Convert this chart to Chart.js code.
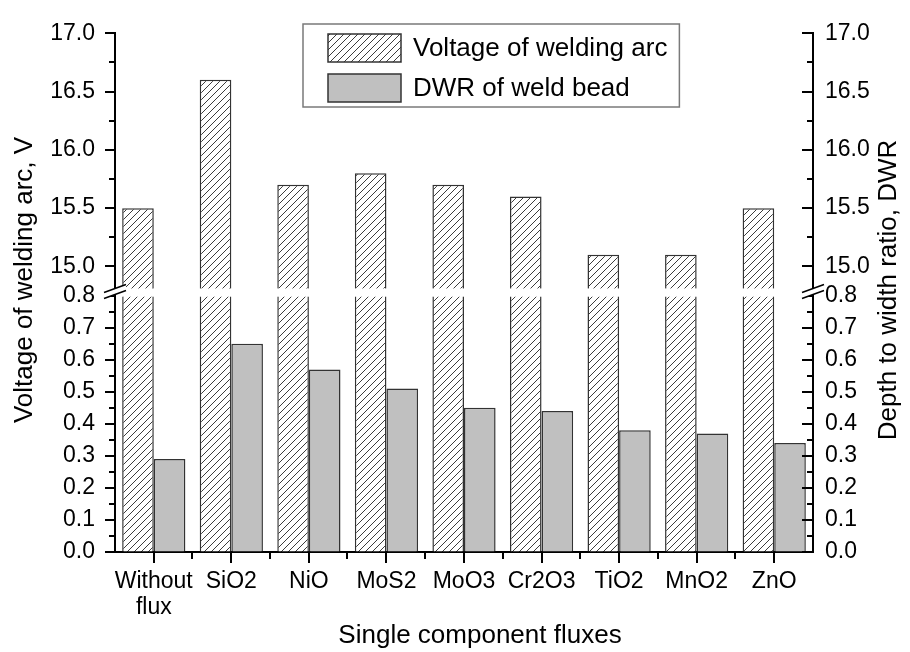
<!DOCTYPE html>
<html>
<head>
<meta charset="utf-8">
<script src="https://cdn.jsdelivr.net/npm/chart.js@4/dist/chart.umd.min.js"></script>
<style>
  html, body { margin: 0; padding: 0; background: #fff; }
  #wrap { width: 910px; height: 652px; }
</style>
</head>
<body>
<div id="wrap"><canvas id="chart" width="910" height="652"></canvas></div>
<script>
const categories = [['Without', 'flux'], 'SiO2', 'NiO', 'MoS2', 'MoO3', 'Cr2O3', 'TiO2', 'MnO2', 'ZnO'];
const seriesNames = ['Voltage of welding arc', 'DWR of weld bead'];
const voltage = [15.5, 16.6, 15.7, 15.8, 15.7, 15.6, 15.1, 15.1, 15.5];
const dwr = [0.29, 0.65, 0.57, 0.51, 0.45, 0.44, 0.38, 0.37, 0.34];
const majorTicks = [0, 0.1, 0.2, 0.3, 0.4, 0.5, 0.6, 0.7, 0.8, 15.0, 15.5, 16.0, 16.5, 17.0];
const minorTicks = [0.05, 0.15, 0.25, 0.35, 0.45, 0.55, 0.65, 0.75, 15.25, 15.75, 16.25, 16.75];
const axisTitles = ['Voltage of welding arc, V', 'Depth to width ratio, DWR', 'Single component fluxes'];

// broken value axis: 0..0.8 in the lower half, 14.82..17 in the upper half
const lowEnd = 0.8, highStart = 14.82, axisMax = 17;
const lowFrac = 0.494, highFrac = 0.49;

const FONT = '"Liberation Sans", Arial, Helvetica, sans-serif';

class BrokenScale extends Chart.LinearScale {
  buildTicks() {
    this.start = this.min;
    this.end = this.max;
    return majorTicks.map(v => ({ value: v }));
  }
  getPixelForValue(v) {
    const h = this.bottom - this.top;
    const yLow = this.bottom - h * lowFrac;
    const yHigh = this.top + h * highFrac;
    if (v <= lowEnd) return this.bottom - (v / lowEnd) * (this.bottom - yLow);
    if (v >= highStart) return yHigh - (v - highStart) / (axisMax - highStart) * (yHigh - this.top);
    return yLow - (v - lowEnd) / (highStart - lowEnd) * (yLow - yHigh);
  }
  getValueForPixel(p) {
    const h = this.bottom - this.top;
    const yLow = this.bottom - h * lowFrac;
    const yHigh = this.top + h * highFrac;
    if (p >= yLow) return (this.bottom - p) / (this.bottom - yLow) * lowEnd;
    if (p <= yHigh) return highStart + (yHigh - p) / (yHigh - this.top) * (axisMax - highStart);
    return lowEnd + (yLow - p) / (yLow - yHigh) * (highStart - lowEnd);
  }
}
BrokenScale.id = 'broken';
BrokenScale.defaults = Object.assign({}, Chart.LinearScale.defaults);
Chart.register(BrokenScale);

function hatch() {
  const s = 7;
  const c = document.createElement('canvas');
  c.width = s; c.height = s;
  const g = c.getContext('2d');
  g.fillStyle = '#fff';
  g.fillRect(0, 0, s, s);
  g.strokeStyle = '#3c3c3c';
  g.lineWidth = 1;
  g.beginPath();
  g.moveTo(0, s); g.lineTo(s, 0);
  g.moveTo(-1, 1); g.lineTo(1, -1);
  g.moveTo(s - 1, s + 1); g.lineTo(s + 1, s - 1);
  g.stroke();
  return g.createPattern(c, 'repeat');
}

const extras = {
  id: 'extras',
  afterDatasetsDraw(chart) {
    const { ctx, chartArea: a, scales: { y } } = chart;
    const y1 = y.getPixelForValue(highStart), y2 = y.getPixelForValue(lowEnd);
    ctx.save();
    ctx.fillStyle = '#fff';
    ctx.fillRect(a.left + 1, y1 + 1, a.right - a.left - 2, y2 - y1);
    ctx.restore();
  },
  afterDraw(chart) {
    const { ctx, chartArea: a, scales: { x, y } } = chart;
    ctx.save();
    ctx.strokeStyle = '#000';
    ctx.lineWidth = 2;
    ctx.beginPath();
    // y tick marks: outward on the left, inward on the right
    majorTicks.forEach(v => {
      const p = Math.round(y.getPixelForValue(v));
      ctx.moveTo(a.left - 10, p); ctx.lineTo(a.left, p);
      ctx.moveTo(a.right - 11, p); ctx.lineTo(a.right, p);
    });
    minorTicks.forEach(v => {
      const p = Math.round(y.getPixelForValue(v));
      ctx.moveTo(a.left - 6, p); ctx.lineTo(a.left, p);
      ctx.moveTo(a.right - 6, p); ctx.lineTo(a.right, p);
    });
    // x tick marks
    categories.forEach((c, i) => {
      const p = Math.round(x.getPixelForTick(i));
      ctx.moveTo(p, a.bottom); ctx.lineTo(p, a.bottom + 11);
      if (i > 0) {
        const m = Math.round((x.getPixelForTick(i - 1) + p) / 2);
        ctx.moveTo(m, a.bottom); ctx.lineTo(m, a.bottom + 7);
      }
    });
    ctx.stroke();

    // axis break marks
    const yb = (y.getPixelForValue(highStart) + y.getPixelForValue(lowEnd)) / 2;
    [a.left, a.right].forEach(ax => {
      ctx.fillStyle = '#fff';
      ctx.beginPath();
      ctx.moveTo(ax - 11, yb + 1); ctx.lineTo(ax + 11, yb - 7);
      ctx.lineTo(ax + 11, yb - 1); ctx.lineTo(ax - 11, yb + 7);
      ctx.closePath();
      ctx.fill();
      ctx.lineWidth = 1.5;
      ctx.beginPath();
      ctx.moveTo(ax - 11, yb + 1); ctx.lineTo(ax + 11, yb - 7);
      ctx.moveTo(ax - 11, yb + 7); ctx.lineTo(ax + 11, yb - 1);
      ctx.stroke();
    });

    // legend box
    ctx.font = '26px ' + FONT;
    const tw = Math.max(...seriesNames.map(n => ctx.measureText(n).width));
    const lx = 303, ly = 24, lw = 110 + tw + 12, lh = 83;
    ctx.strokeStyle = '#7a7a7a';
    ctx.lineWidth = 1.5;
    ctx.strokeRect(lx, ly, lw, lh);
    chart.data.datasets.forEach((ds, i) => {
      const sy = i === 0 ? 34 : 74;
      ctx.fillStyle = ds.backgroundColor;
      ctx.fillRect(328, sy, 73, 28);
      ctx.strokeStyle = '#333';
      ctx.lineWidth = 1.5;
      ctx.strokeRect(328, sy, 73, 28);
      ctx.fillStyle = '#000';
      ctx.textAlign = 'left';
      ctx.textBaseline = 'middle';
      ctx.fillText(ds.label, 413, sy + 15);
    });

    // axis titles
    ctx.fillStyle = '#000';
    ctx.textAlign = 'center';
    ctx.textBaseline = 'middle';
    [[25, 280, 0], [889, 290, 1]].forEach(([tx, ty, k]) => {
      ctx.save();
      ctx.translate(tx, ty);
      ctx.rotate(-Math.PI / 2);
      ctx.fillText(axisTitles[k], 0, 0);
      ctx.restore();
    });
    ctx.textBaseline = 'alphabetic';
    ctx.fillText(axisTitles[2], 480, 643);
    ctx.restore();
  }
};

const tickFont = { size: 23, family: FONT, lineHeight: 1.15 };
const yCommon = {
  type: 'broken',
  min: 0,
  max: axisMax,
  z: 1,
  grid: { display: true, drawOnChartArea: false, drawTicks: false },
  border: { display: true, color: '#000', width: 2 },
  ticks: { autoSkip: false, color: '#000', font: tickFont, callback: v => Number(v).toFixed(1) }
};

const ctx = document.getElementById('chart').getContext('2d');
new Chart(ctx, {
  type: 'bar',
  data: {
    labels: categories,
    datasets: [
      {
        label: seriesNames[0],
        data: voltage,
        yAxisID: 'y',
        backgroundColor: hatch(),
        borderColor: '#333',
        borderWidth: 1.5
      },
      {
        label: seriesNames[1],
        data: dwr,
        yAxisID: 'y2',
        backgroundColor: '#c0c0c0',
        borderColor: '#333',
        borderWidth: 1.5
      }
    ]
  },
  plugins: [extras],
  options: {
    responsive: false,
    animation: false,
    categoryPercentage: 0.815,
    barPercentage: 1.0,
    layout: { padding: { top: 25, left: 0, right: 0, bottom: 0 } },
    plugins: { legend: { display: false }, tooltip: { enabled: false } },
    scales: {
      x: {
        z: 1,
        grid: { display: true, drawOnChartArea: false, drawTicks: false },
        border: { display: true, color: '#000', width: 2 },
        ticks: { autoSkip: false, maxRotation: 0, color: '#000', font: tickFont, padding: 16 },
        afterFit: s => { s.height = 100; }
      },
      y: Object.assign({}, yCommon, {
        position: 'left',
        ticks: Object.assign({}, yCommon.ticks, { padding: 20 }),
        afterFit: s => { s.width = 115; }
      }),
      y2: Object.assign({}, yCommon, {
        position: 'right',
        ticks: Object.assign({}, yCommon.ticks, { padding: 12 }),
        afterFit: s => { s.width = 97; }
      })
    }
  }
});
</script>
</body>
</html>
